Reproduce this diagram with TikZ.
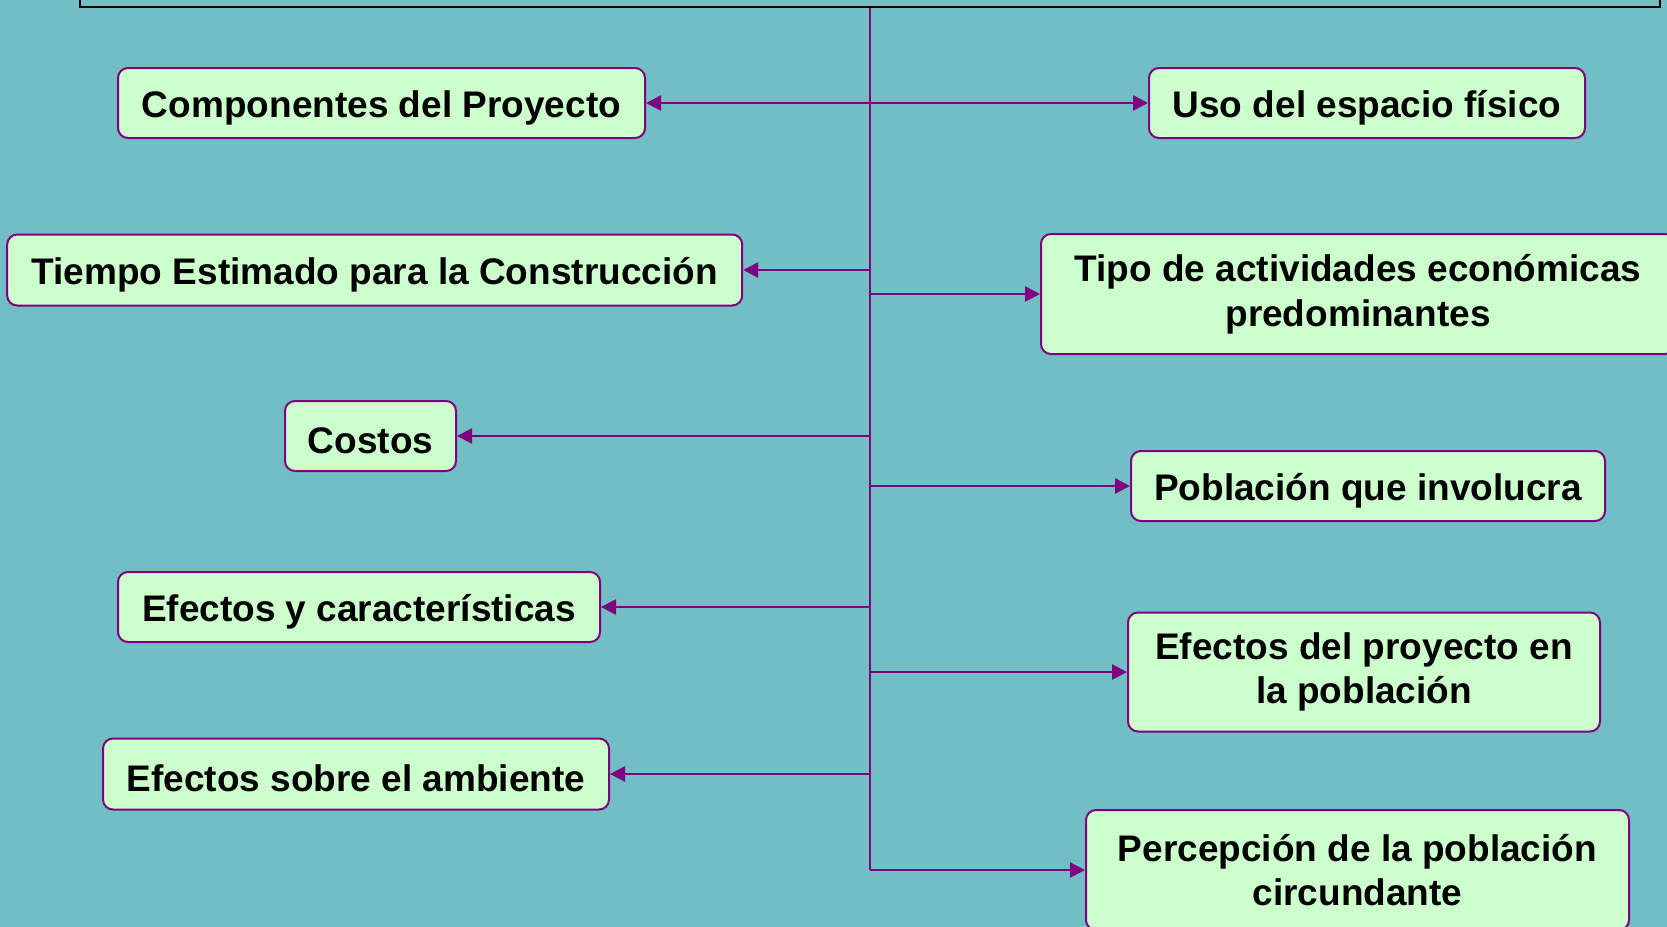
\documentclass[tikz,border=0pt]{standalone}
\usepackage{fontspec}
\setmainfont{Liberation Sans}
\usetikzlibrary{arrows.meta}
\definecolor{fondo}{RGB}{113,190,197}
\definecolor{caja}{RGB}{204,255,204}
\definecolor{morado}{RGB}{128,0,128}
\tikzset{
  box/.style={draw=morado, fill=caja, line width=1pt, rounded corners=5pt,
              align=center, inner sep=0pt,
              font=\fontsize{18.5}{22.3}\selectfont\bfseries,
              execute at begin node={\rule{0pt}{18pt}}},
  arr/.style={draw=morado, line width=1.3pt, -{Triangle[length=7.5pt,width=7.5pt]}}
}
\begin{document}
\begin{tikzpicture}[x=0.5pt,y=-0.5pt]
            \fill[fondo] (0,0) rectangle (1667,927);
            \useasboundingbox (0,0) rectangle (1667,927);

            \node[draw=black, line width=1pt, minimum width=790pt, minimum height=46.5pt] at (870,-40) (head) {};

            \node[box, minimum width=263.5pt, minimum height=35pt] at (381.5,103) (comp) {Componentes del Proyecto};
            \node[box, minimum width=367.5pt, minimum height=35.5pt] at (374.7,270) (tiempo) {Tiempo Estimado para la Construcción};
            \node[box, minimum width=85.5pt, minimum height=35pt] at (370.5,436) (costos) {Costos};
            \node[box, minimum width=241pt, minimum height=35pt] at (359,607) (efcar) {Efectos y características};
            \node[box, minimum width=253pt, minimum height=35.5pt] at (356,774) (efamb) {Efectos sobre el ambiente};

            \node[box, minimum width=218pt, minimum height=35pt] at (1367,103) (uso) {Uso del espacio físico};
            \node[box, minimum width=317pt, minimum height=60pt] at (1358,294) (tipo) {Tipo de actividades económicas\\predominantes};
            \node[box, minimum width=237pt, minimum height=35pt] at (1368,486) (pobl) {Población que involucra};
            \node[box, minimum width=236pt, minimum height=59.5pt] at (1364,672) (efproy) {Efectos del proyecto en\\la población};
            \node[box, minimum width=271.5pt, minimum height=60pt] at (1357.5,870) (perc) {Percepción de la población\\circundante};

            \coordinate (bot) at (870,870);
            \draw[morado, line width=1.3pt] (head.south) -- (bot);

            \draw[arr] (comp.east -| head.south) -- (comp.east);
            \draw[arr] (comp.east -| head.south) -- (uso.west);
            \draw[arr] (tiempo.east -| head.south) -- (tiempo.east);
            \draw[arr] (costos.east -| head.south) -- (costos.east);
            \draw[arr] (efcar.east -| head.south) -- (efcar.east);
            \draw[arr] (efamb.east -| head.south) -- (efamb.east);
            \draw[arr] (tipo.west -| head.south) -- (tipo.west);
            \draw[arr] (pobl.west -| head.south) -- (pobl.west);
            \draw[arr] (efproy.west -| head.south) -- (efproy.west);
            \draw[arr] (bot) -- (perc.west);
\end{tikzpicture}
\end{document}
